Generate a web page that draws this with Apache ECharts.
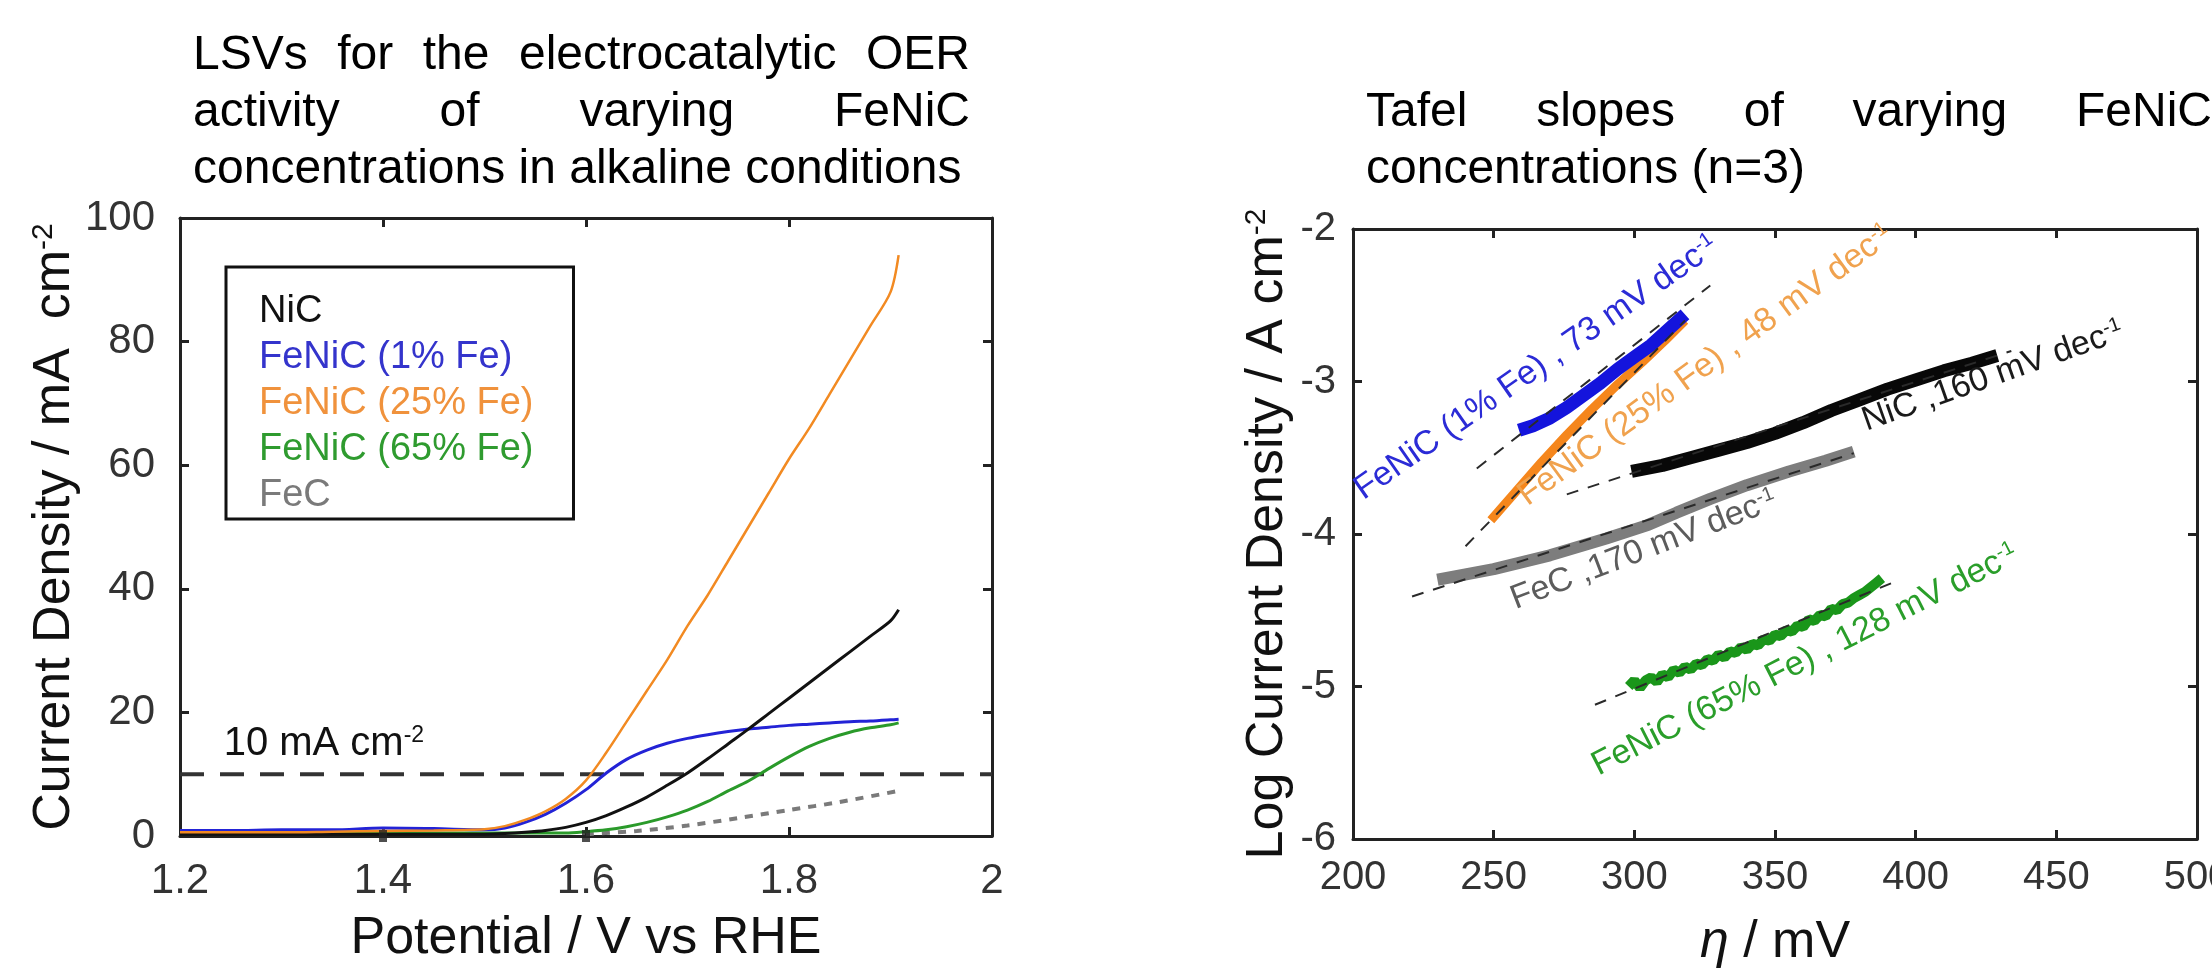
<!DOCTYPE html>
<html>
<head>
<meta charset="utf-8">
<script src="https://cdn.jsdelivr.net/npm/echarts@6/dist/echarts.min.js"></script>
<style>
html, body { margin: 0; padding: 0; width: 2212px; height: 973px; overflow: hidden; background: #fff; }
#chart { position: absolute; left: 0; top: 0; width: 2212px; height: 973px; }
.plotTitle {
    position: absolute;
    font-family: 'Liberation Sans', Arial, sans-serif;
    font-size: 48px;
    line-height: 57px;
    color: #000;
    text-align: justify;
    text-align-last: left;
}
#titleLeft { left: 193px; top: 24px; width: 777px; }
#titleRight { left: 1366px; top: 81px; width: 846px; }
</style>
</head>
<body>
<div id="chart"></div>
<div class="plotTitle" id="titleLeft">LSVs for the electrocatalytic OER activity of varying FeNiC concentrations in alkaline conditions</div>
<div class="plotTitle" id="titleRight">Tafel slopes of varying FeNiC concentrations (n=3)</div>
<script>
/* ---- LSV panel: potential (V vs RHE) and current density (mA cm-2) ---- */
var potential = [1.20, 1.25, 1.30, 1.35, 1.40, 1.45, 1.50, 1.52, 1.54, 1.56, 1.58, 1.60, 1.62, 1.64, 1.66, 1.68, 1.70, 1.72, 1.74, 1.76, 1.78, 1.80, 1.82, 1.84, 1.86, 1.88, 1.90, 1.908];
var jNiC  = [0.3, 0.3, 0.3, 0.3, 0.3, 0.3, 0.3, 0.4, 0.6, 0.9, 1.4, 2.2, 3.3, 4.7, 6.3, 8.2, 10.2, 12.5, 14.9, 17.3, 19.8, 22.3, 24.8, 27.3, 29.8, 32.3, 34.8, 36.6];
var jFe1  = [0.9, 0.9, 1.0, 1.0, 1.3, 1.2, 1.0, 1.3, 2.2, 3.5, 5.3, 7.5, 10.2, 12.4, 13.9, 15.0, 15.8, 16.4, 16.9, 17.3, 17.6, 17.9, 18.1, 18.3, 18.5, 18.6, 18.8, 18.9];
var jFe25 = [0.6, 0.6, 0.6, 0.7, 0.8, 0.9, 1.1, 1.6, 2.6, 4.0, 6.0, 9.0, 13.5, 18.5, 23.5, 28.5, 34.0, 39.0, 44.5, 50.0, 55.5, 61.0, 66.0, 71.5, 77.0, 82.5, 88.0, 94.0];
var jFe65 = [0.5, 0.5, 0.5, 0.5, 0.5, 0.5, 0.5, 0.5, 0.5, 0.5, 0.5, 0.7, 1.0, 1.5, 2.2, 3.1, 4.2, 5.6, 7.3, 8.9, 10.9, 12.8, 14.5, 15.8, 16.8, 17.5, 18.0, 18.3];
var potentialFeC = [1.60, 1.65, 1.70, 1.75, 1.80, 1.85, 1.908];
var jFeC = [0.3, 0.8, 1.7, 2.9, 4.2, 5.5, 7.3];
var refLine = [[1.2, 10], [2.0, 10]];
var markerPts = [[1.4, 0], [1.6, 0]];
var lsvNames = ['NiC', 'FeNiC (1% Fe)', 'FeNiC (25% Fe)', 'FeNiC (65% Fe)', 'FeC'];

/* ---- Tafel panel: [overpotential mV, log j] ---- */
var tafelFe1 = [[259, -3.32], [264, -3.29], [270, -3.24], [276, -3.17], [282, -3.09], [288, -3.01], [294, -2.92], [300, -2.84], [306, -2.76], [312, -2.66], [318, -2.56]];
var tafelFe25 = [[249, -3.91], [258, -3.72], [267, -3.53], [276, -3.35], [285, -3.18], [294, -3.02], [303, -2.87], [311, -2.73], [318, -2.60]];
var tafelNiC = [[299, -3.59], [310, -3.55], [320, -3.50], [330, -3.45], [340, -3.40], [350, -3.34], [360, -3.27], [370, -3.19], [380, -3.12], [390, -3.05], [400, -2.99], [410, -2.93], [420, -2.88], [429, -2.83]];
var tafelFeC = [[230, -4.30], [250, -4.23], [270, -4.14], [290, -4.03], [305, -3.94], [315, -3.86], [327, -3.77], [340, -3.68], [355, -3.59], [368, -3.52], [378, -3.46]];
var tafelFe65 = [[298, -5.00], [300, -4.96], [302, -5.01], [304, -4.96], [306, -4.94], [308, -4.97], [310, -4.92], [312, -4.94], [314, -4.89], [316, -4.91], [318, -4.87], [320, -4.89], [322, -4.85], [324, -4.86], [326, -4.82], [328, -4.83], [330, -4.79], [332, -4.81], [334, -4.77], [336, -4.78], [338, -4.74], [340, -4.76], [342, -4.72], [344, -4.73], [346, -4.69], [348, -4.70], [350, -4.66], [352, -4.67], [354, -4.63], [356, -4.64], [358, -4.60], [360, -4.61], [362, -4.56], [364, -4.57], [366, -4.53], [368, -4.54], [370, -4.49], [372, -4.50], [374, -4.46], [376, -4.45], [378, -4.42], [380, -4.40], [382, -4.38], [384, -4.35], [386, -4.32], [388, -4.29]];
var fitFe1 = [[244, -3.57], [327, -2.37]];
var fitFe25 = [[240, -4.08], [318, -2.60]];
var fitNiC = [[276, -3.74], [434, -2.80]];
var fitFeC = [[221, -4.41], [378, -3.47]];
var fitFe65 = [[286, -5.12], [393, -4.31]];
var tafelNotes = ['FeNiC (1% Fe) , 73 mV dec', 'FeNiC (25% Fe) , 48 mV dec', 'NiC ,160 mV dec', 'FeC ,170 mV dec', 'FeNiC (65% Fe) , 128 mV dec'];

var fontFamily = "'Liberation Sans', Arial, sans-serif";
var axisColor = '#222';
var lsvColors = ['#111111', '#2323d6', '#f28a22', '#2a9a2a', '#7a7a7a'];
var legendColors = ['#111111', '#3434cc', '#f0923c', '#2f9b2f', '#7a7a7a'];

function pairs(xs, ys) {
    var out = [];
    for (var i = 0; i < xs.length; i++) {
        out.push([xs[i], ys[i]]);
    }
    return out;
}

// one framed axis: labelled side or mirrored side with inside ticks only
function frameAxis(grid, pos, min, max, step, label) {
    var axis = {
        type: 'value',
        gridIndex: grid,
        position: pos,
        min: min,
        max: max,
        interval: step,
        axisLine: { show: true, onZero: false, lineStyle: { color: axisColor, width: 3 } },
        axisTick: { show: true, inside: true, length: 9, lineStyle: { color: axisColor, width: 3 } },
        splitLine: { show: false },
        axisLabel: { show: false }
    };
    if (label) {
        axis.axisLabel = {
            show: true,
            fontSize: label.size,
            fontFamily: fontFamily,
            color: '#333',
            margin: label.margin,
            formatter: function (v) { return String(+v.toFixed(1)); }
        };
        axis.name = label.name;
        axis.nameLocation = 'middle';
        axis.nameGap = label.gap;
        axis.nameRotate = label.rotate || 0;
        axis.nameTextStyle = {
            fontSize: 52,
            fontFamily: fontFamily,
            color: '#111',
            rich: {
                m: { fontSize: 52, fontFamily: fontFamily, color: '#111' },
                i: { fontSize: 52, fontFamily: fontFamily, color: '#111', fontStyle: 'italic' },
                s: { fontSize: 30, fontFamily: fontFamily, color: '#111', verticalAlign: 'top' }
            }
        };
    }
    return axis;
}

function lsvSeries(i, data, extra) {
    var s = {
        name: lsvNames[i],
        type: 'line',
        xAxisIndex: 0,
        yAxisIndex: 0,
        data: data,
        symbol: 'none',
        smooth: 0.3,
        lineStyle: { color: lsvColors[i], width: 3 },
        itemStyle: { color: lsvColors[i] }
    };
    if (extra) {
        for (var k in extra) { s.lineStyle[k] = extra[k]; }
    }
    return s;
}

function tafelSeries(name, data, color, width) {
    return {
        name: name,
        type: 'line',
        xAxisIndex: 2,
        yAxisIndex: 2,
        data: data,
        symbol: 'none',
        lineStyle: { color: color, width: width, cap: 'butt', join: 'bevel' },
        z: 3
    };
}

function fitSeries(name, data) {
    return {
        name: name,
        type: 'line',
        xAxisIndex: 2,
        yAxisIndex: 2,
        data: data,
        symbol: 'none',
        lineStyle: { color: '#2a2a2a', width: 2, type: [12, 10] },
        z: 4
    };
}

var chart = echarts.init(document.getElementById('chart'), null, { renderer: 'canvas' });

var option = {
    animation: false,
    backgroundColor: '#fff',
    textStyle: { fontFamily: fontFamily },
    grid: [
        { left: 180, top: 218, width: 812, height: 618, outerBoundsMode: 'none' },
        { left: 1353, top: 229, width: 844, height: 610, outerBoundsMode: 'none' }
    ],
    legend: {
        data: lsvNames.map(function (n, i) { return { name: n, textStyle: { color: legendColors[i] } }; }),
        orient: 'vertical',
        left: 226,
        top: 267,
        padding: [26, 40, 4, 27],
        itemGap: 8,
        itemWidth: 0,
        itemHeight: 0,
        itemStyle: { opacity: 0 },
        lineStyle: { opacity: 0 },
        borderColor: '#111',
        borderWidth: 3,
        selectedMode: false,
        textStyle: { fontSize: 38, lineHeight: 38, fontFamily: fontFamily }
    },
    xAxis: [
        frameAxis(0, 'bottom', 1.2, 2.0, 0.2, { size: 42, margin: 24, name: 'Potential / V vs RHE', gap: 77 }),
        frameAxis(0, 'top', 1.2, 2.0, 0.2, null),
        frameAxis(1, 'bottom', 200, 500, 50, { size: 40, margin: 19, name: '{i|η}{m| / mV}', gap: 78 }),
        frameAxis(1, 'top', 200, 500, 50, null)
    ],
    yAxis: [
        frameAxis(0, 'left', 0, 100, 20, { size: 42, margin: 25, name: '{m|Current Density / mA  cm}{s|-2}', gap: 89, rotate: 90 }),
        frameAxis(0, 'right', 0, 100, 20, null),
        frameAxis(1, 'left', -6, -2, 1, { size: 40, margin: 17, name: '{m|Log Current Density / A cm}{s|-2}', gap: 59, rotate: 90 }),
        frameAxis(1, 'right', -6, -2, 1, null)
    ],
    series: [
        lsvSeries(4, pairs(potentialFeC, jFeC), { type: [8, 8], width: 4 }),
        lsvSeries(3, pairs(potential, jFe65)),
        lsvSeries(1, pairs(potential, jFe1)),
        lsvSeries(0, pairs(potential, jNiC)),
        lsvSeries(2, pairs(potential, jFe25), { width: 2.5 }),
        {
            name: '10 mA cm-2',
            type: 'line',
            xAxisIndex: 0,
            yAxisIndex: 0,
            data: refLine,
            symbol: 'none',
            lineStyle: { color: '#333', width: 4, type: [24, 16] },
            z: 1
        },
        {
            name: 'start',
            type: 'scatter',
            xAxisIndex: 0,
            yAxisIndex: 0,
            data: markerPts,
            symbol: 'rect',
            symbolSize: [8, 12],
            itemStyle: { color: '#222' },
            clip: false,
            z: 5
        },
        tafelSeries('Tafel FeC', tafelFeC, '#7d7d7d', 12),
        tafelSeries('Tafel NiC', tafelNiC, '#080808', 13),
        tafelSeries('Tafel 25% Fe', tafelFe25, '#f5861c', 9),
        tafelSeries('Tafel 1% Fe', tafelFe1, '#1414dc', 13),
        tafelSeries('Tafel 65% Fe', tafelFe65, '#1a961a', 10),
        fitSeries('fit FeC', fitFeC),
        fitSeries('fit NiC', fitNiC),
        fitSeries('fit 25% Fe', fitFe25),
        fitSeries('fit 1% Fe', fitFe1),
        fitSeries('fit 65% Fe', fitFe65)
    ]
};
chart.setOption(option);

/* rotated slope labels and the 10 mA label, placed in data coordinates */
function supText(txt, sup, color, size) {
    return {
        text: '{m|' + txt + '}{s|' + sup + '}',
        align: 'left',
        verticalAlign: 'bottom',
        rich: {
            m: { fill: color, fontSize: size, fontFamily: fontFamily },
            s: { fill: color, fontSize: Math.round(size * 0.58), fontFamily: fontFamily, verticalAlign: 'top' }
        }
    };
}

var noteSpots = [[205.3, -3.82], [263.6, -3.86], [383.4, -3.37], [258.7, -4.54], [288.5, -5.63]];
var noteAngles = [35, 36, 19.5, 21, 27];
var noteColors = ['#2b2bd6', '#f0a24e', '#1a1a1a', '#5c5c5c', '#2a9e2a'];

var graphics = [];
for (var n = 0; n < tafelNotes.length; n++) {
    var pt = chart.convertToPixel({ gridIndex: 1 }, noteSpots[n]);
    graphics.push({
        type: 'text',
        x: pt[0],
        y: pt[1],
        rotation: noteAngles[n] * Math.PI / 180,
        style: supText(tafelNotes[n], '-1', noteColors[n], 34),
        z: 10
    });
}
var refPt = chart.convertToPixel({ gridIndex: 0 }, [1.243, 11.7]);
graphics.push({
    type: 'text',
    x: refPt[0],
    y: refPt[1],
    style: supText('10 mA cm', '-2', '#111', 40),
    z: 10
});
chart.setOption({ graphic: graphics });
</script>
</body>
</html>
